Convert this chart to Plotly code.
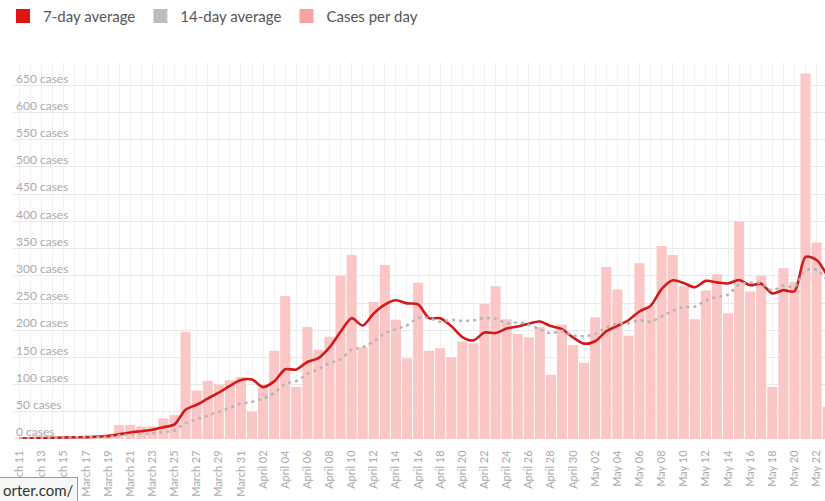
import plotly.graph_objects as go
import pandas as pd

# ---- data ----
start_date = "2020-03-11"
end_date = "2020-05-23"
dates = pd.date_range(start_date, end_date, freq="D").strftime("%Y-%m-%d").tolist()

cases = [1, 2, 2, 3, 6, 5, 5, 7, 9, 26,
         26, 23, 23, 38, 44, 197, 89, 107, 100, 108,
         114, 50, 100, 162, 263, 96, 206, 164, 188, 300,
         338, 168, 252, 320, 219, 148, 287, 162, 167, 150,
         179, 176, 248, 281, 220, 193, 187, 206, 118, 210,
         173, 140, 224, 316, 275, 190, 323, 245, 355, 338,
         281, 220, 273, 303, 231, 400, 271, 300, 96, 314,
         289, 672, 361, 59]

avg7 = [1.0, 1.5, 1.7, 2.0, 2.8, 3.2, 3.4, 4.3, 5.3, 8.7,
        12.0, 14.4, 17.0, 21.7, 27.0, 53.9, 62.9, 74.4, 85.4, 97.6,
        108.4, 109.3, 95.4, 105.9, 128.1, 127.6, 141.6, 148.7, 168.4, 197.0,
        222.1, 208.6, 230.9, 247.1, 255.0, 249.3, 247.4, 222.3, 222.1, 207.6,
        187.4, 181.3, 195.6, 194.7, 203.0, 206.7, 212.0, 215.9, 207.6, 202.1,
        186.7, 175.3, 179.7, 198.1, 208.0, 218.3, 234.4, 244.7, 275.4, 291.7,
        286.7, 278.9, 290.7, 287.9, 285.9, 292.3, 282.7, 285.4, 267.7, 273.6,
        271.6, 334.6, 329.0, 298.7]

avg14 = [1.0, 1.5, 1.7, 2.0, 2.8, 3.2, 3.4, 3.9, 4.4, 6.6,
         8.4, 9.6, 10.6, 12.6, 15.6, 29.6, 35.8, 43.2, 49.9, 57.3,
         65.1, 68.1, 74.6, 84.4, 101.3, 106.5, 119.6, 128.6, 138.9, 146.2,
         164.0, 168.4, 179.2, 194.4, 201.9, 208.9, 222.2, 222.2, 215.4, 219.2,
         217.3, 218.1, 222.4, 221.1, 212.6, 214.4, 209.8, 201.6, 194.4, 198.9,
         190.7, 189.1, 193.2, 205.1, 211.9, 212.9, 218.3, 215.7, 225.4, 235.7,
         242.4, 243.4, 254.5, 261.1, 265.3, 283.9, 287.2, 286.1, 273.3, 282.1,
         279.7, 310.2, 310.6, 290.7]

y_tick_vals = [0, 50, 100, 150, 200, 250, 300, 350, 400, 450, 500, 550, 600, 650]
y_tick_text = [f"{v} cases" for v in y_tick_vals]

series_names = ["7-day average", "14-day average", "Cases per day"]

# ---- styles ----
FONT = "Lato, 'Open Sans', sans-serif"
BAR_COLOR = "#fbc6c6"
RED = "#d21a1a"
GREY = "#b4b4b4"
LEGEND_COLORS = ["#dc1414", "#bdbdbd", "#f6a3a3"]

fig = go.Figure()

fig.add_trace(go.Bar(
    x=dates, y=cases, marker=dict(color=BAR_COLOR, line=dict(width=0)),
    showlegend=False, name=series_names[2]))

fig.add_trace(go.Scatter(
    x=dates, y=avg7, mode="lines", line=dict(color=RED, width=2.6, shape="spline", smoothing=0.8),
    showlegend=False, name=series_names[0]))

fig.add_trace(go.Scatter(
    x=dates, y=avg14, mode="lines", line=dict(color=GREY, width=2.4, dash="3px,4px", shape="spline"),
    showlegend=False, name=series_names[1]))

# legend swatches
for nm, col in zip(series_names, LEGEND_COLORS):
    fig.add_trace(go.Scatter(
        x=[None], y=[None], mode="markers", name=nm,
        marker=dict(symbol="square", size=14, color=col, line=dict(width=0))))

fig.update_layout(
    width=825, height=501,
    margin=dict(l=13, r=0, t=62, b=62, autoexpand=False),
    paper_bgcolor="white", plot_bgcolor="white",
    font=dict(family=FONT, color="#aaaaaa"),
    bargap=0.09,
    showlegend=True,
    legend=dict(orientation="h", x=-10 / 812, xanchor="left", y=1.165, yanchor="top",
                font=dict(family=FONT, size=15, color="#555555"),
                itemclick=False, bgcolor="rgba(0,0,0,0)"),
    xaxis=dict(
        type="date",
        range=["2020-03-10 09:50", "2020-05-22 18:15"],
        tick0=start_date, dtick=2 * 86400000,
        tickformat="%B %d", tickangle=-90,
        tickfont=dict(family=FONT, size=11, color="#aaaaaa"),
        ticks="outside", ticklen=6, tickcolor="rgba(0,0,0,0)",
        showgrid=True, gridcolor="#f1f1f1", gridwidth=1,
        minor=dict(dtick=86400000, tick0=start_date, showgrid=True, gridcolor="#f1f1f1"),
        showline=False, zeroline=False, fixedrange=True, automargin=False,
    ),
    yaxis=dict(
        range=[0, 693],
        side="right", anchor="free", position=0,
        tickvals=y_tick_vals, ticktext=y_tick_text,
        ticklabelposition="outside", ticklabelshift=-7, ticklabelstandoff=2,
        ticks="", tickfont=dict(family=FONT, size=12, color="#aaaaaa"),
        showgrid=True, gridcolor="#e9e9e9", gridwidth=1,
        zeroline=False, showline=False, fixedrange=True, automargin=False,
    ),
    annotations=[dict(
        text="orter.com/", xref="paper", yref="paper",
        x=-14 / 812, y=-38 / 377, xanchor="left", yanchor="top",
        showarrow=False, align="left",
        font=dict(family=FONT, size=15, color="#333333"),
        bgcolor="#f6f6f6", bordercolor="#9a9a9a", borderwidth=1, borderpad=3,
    )],
)

fig.write_html("out.html", config={"displayModeBar": False},
               post_script="document.body.style.margin='0px';")
